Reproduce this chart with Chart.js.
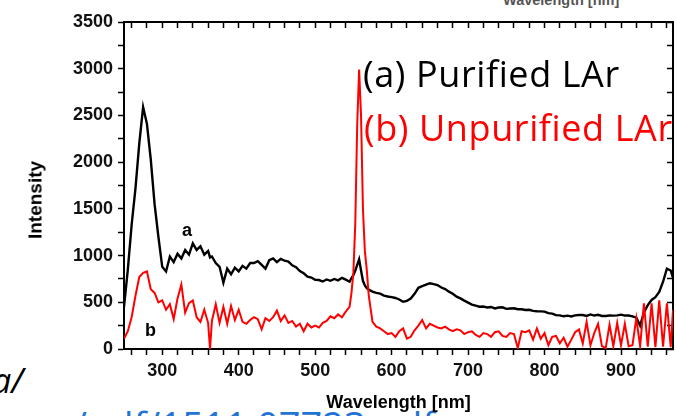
<!DOCTYPE html>
<html>
<head>
<meta charset="utf-8">
<script src="https://cdn.jsdelivr.net/npm/chart.js@4.4.0/dist/chart.umd.min.js"></script>
<style>
  body { margin: 0; background: #fff; }
  #wrap { position: relative; width: 677px; height: 416px; overflow: hidden; }
  #grafico { position: absolute; left: 0; top: 0; z-index: 2; }
  .txt { position: absolute; white-space: nowrap; line-height: 1; }
  .leg { font-family: "Open Sans", sans-serif; font-size: 36px; letter-spacing: 0.6px; z-index: 3; }
  .lbl { font-family: "Liberation Sans", Arial, sans-serif; font-weight: bold; font-size: 18px; z-index: 3; }
</style>
</head>
<body>
<div id="wrap">
  <div class="txt" style="left:73px; top:406px; font-family:'Open Sans'; font-size:38px; color:#1f74d4; z-index:1">/pdf/1511.07723.pdf</div>
  <div class="txt" style="left:-8px; top:363px; font-family:'Open Sans'; font-style:italic; font-size:34px; color:#000; z-index:1">a/</div>
  <div class="txt" style="left:503px; top:-7px; font-family:'Liberation Sans'; font-weight:bold; font-size:14.5px; color:#555; z-index:1">Wavelength [nm]</div>
  <canvas id="grafico" width="677" height="416"></canvas>
  <div class="txt lbl" style="left:35px; top:200px; font-size:19px; transform:translate(0,-50%) rotate(-90deg); transform-origin:center; width:0; display:flex; justify-content:center">Intensity</div>
  <div class="txt leg" style="left:363px; top:56px; color:#000">(a) Purified LAr</div>
  <div class="txt leg" style="left:364px; top:110px; color:#ff0000">(b) Unpurified LAr</div>
  <div class="txt lbl" style="left:182px; top:221px">a</div>
  <div class="txt lbl" style="left:145px; top:321px">b</div>
</div>
<script>
// comprimento de onda (nm)
const wavelengths = [
  250, 255, 260, 265, 270, 275, 280, 285, 290, 295,
  300, 305, 310, 315, 320, 325, 330, 335, 340, 345,
  350, 355, 360, 362.5, 365, 370, 375, 380, 385, 390, 395,
  400, 405, 410, 415, 420, 425, 430, 435, 440, 445,
  450, 455, 460, 465, 470, 475, 480, 485, 490, 495,
  500, 505, 510, 515, 520, 525, 530, 535, 540, 545,
  547.5, 550, 552.5, 555, 557.5, 560, 562.5, 565, 567.5, 570,
  575, 580, 585, 590, 595,
  600, 605, 610, 615, 620, 625, 630, 635, 640, 645, 650, 655, 660, 665, 670, 675, 680, 685, 690, 695,
  700, 705, 710, 715, 720, 725, 730, 735, 740, 745, 750, 755, 760, 765, 770, 775, 780, 785, 790, 795,
  800, 805, 810, 815, 820, 825, 830, 835, 840, 845, 850, 855, 860, 865, 870, 875, 880, 885, 890, 895,
  900, 905, 910, 915, 920, 925, 930, 935, 940, 945, 950, 955, 960, 965, 968
]

// (a) argonio purificado
const purified = [
  450, 850, 1330, 1720, 2200, 2590, 2410, 2030, 1550, 1200,
  880, 830, 990, 930, 1020, 970, 1060, 1010, 1130, 1060,
  1100, 1010, 1050, 980, 990, 920, 880, 710, 860, 800, 870,
  830, 890, 860, 920, 920, 940, 900, 860, 950, 970,
  930, 965, 945, 935, 895, 875, 835, 810, 775, 765,
  740, 738, 722, 744, 730, 750, 735, 762, 742, 720,
  760, 790, 840, 900, 960, 840, 730, 680, 650, 635,
  615, 600, 592, 572, 562,
  555, 546, 530, 506, 515, 540, 590, 655, 672, 690, 703, 695, 684, 658, 642, 614, 592, 560, 542, 518,
  497, 476, 464, 452, 455, 444, 450, 434, 444, 446, 430, 434, 436, 426, 426, 418, 420, 408, 404, 403,
  400, 384, 378, 362, 360, 350, 357, 348, 360, 364, 364, 354, 370, 358, 366, 354, 354, 358, 357, 360,
  368, 358, 358, 350, 335, 250, 390, 470, 525, 555, 610, 720, 860, 840, 760
]

// (b) argonio nao purificado
const unpurified = [
  110, 190, 340, 570, 770, 815, 830, 640, 600, 500,
  520, 420, 480, 320, 540, 690, 390, 490, 520, 340,
  290, 420, 280, 0, 300, 480, 280, 450, 270, 460, 310,
  420, 290, 270, 310, 340, 320, 210, 330, 300, 340,
  410, 300, 360, 280, 300, 240, 270, 190, 270, 230,
  250, 230, 280, 300, 350, 330, 370, 340, 400, 450,
  600, 820, 1350, 2400, 2990, 2500, 1500, 1050, 850, 580,
  290, 240, 220, 190, 160,
  170, 130, 190, 220, 110, 130, 200, 250, 310, 220, 270, 250, 230, 220, 240, 210, 190, 210, 200, 160,
  180, 190, 150, 130, 170, 160, 130, 180, 190, 140, 130, 170, 160, 10, 190, 180, 200, 100, 220, 110,
  170, 40, 130, 140, 60, 120, 25, 100, 180, 210, 60, 290, 40, 170, 270, 30, 10, 260, 30, 280,
  40, 270, 30, 40, 330, 30, 490, 25, 490, 20, 520, 25, 490, 20, 420
]

const xTicksLabel = [300, 400, 500, 600, 700, 800, 900]
const yTicksLabel = [0, 500, 1000, 1500, 2000, 2500, 3000, 3500]

const fonteEixo = { family: "Liberation Sans", size: 18, weight: "bold" }

function pontos(valores) {
    return wavelengths.map((w, i) => ({ x: w, y: valores[i] }))
}

function eixoX(pos) {
    return {
        type: "linear",
        position: pos,
        min: 250,
        max: 968,
        ticks: {
            display: pos == "bottom",
            stepSize: 20,
            maxTicksLimit: 100,
            includeBounds: false,
            autoSkip: false,
            maxRotation: 0,
            padding: 5,
            color: "#111",
            font: fonteEixo,
            callback: v => xTicksLabel.includes(v) ? v : ""
        },
        grid: { drawOnChartArea: false, tickLength: pos == "bottom" ? 6 : -6, tickColor: "#000", tickWidth: 1.5 },
        border: { color: "#000", width: 2 },
        title: {
            display: pos == "bottom",
            text: "Wavelength [nm]",
            color: "#000",
            font: fonteEixo,
            padding: { top: 0, bottom: 2 }
        },
        afterFit: s => { s.height = pos == "bottom" ? 67 : 0 }
    }
}

function eixoY(pos) {
    return {
        type: "linear",
        position: pos,
        min: 0,
        max: 3500,
        ticks: {
            display: pos == "left",
            stepSize: 250,
            autoSkip: false,
            padding: 5,
            color: "#111",
            font: fonteEixo,
            callback: v => yTicksLabel.includes(v) ? v : ""
        },
        grid: { drawOnChartArea: false, tickLength: pos == "left" ? 6 : -6, tickColor: "#000", tickWidth: 1.5 },
        border: { color: "#000", width: 2 },
        afterFit: s => { s.width = pos == "left" ? 124 : 0 }
    }
}

const grafico = new Chart(document.getElementById("grafico"), {
    type: "line",
    data: {
        datasets: [{
            label: "(a) Purified LAr",
            data: pontos(purified),
            borderColor: "#000000",
            borderWidth: 2.4,
            pointRadius: 0,
            tension: 0,
            order: 1
        }, {
            label: "(b) Unpurified LAr",
            data: pontos(unpurified),
            borderColor: "#ff0000",
            borderWidth: 2,
            pointRadius: 0,
            tension: 0,
            order: 0
        }]
    },
    options: {
        responsive: false,
        animation: false,
        layout: { padding: { left: 0, top: 22, right: 4, bottom: 0 } },
        plugins: {
            legend: { display: false },
            tooltip: { enabled: false }
        },
        scales: {
            x: eixoX("bottom"),
            x2: eixoX("top"),
            y: eixoY("left"),
            y2: eixoY("right")
        }
    }
})
</script>
</body>
</html>
